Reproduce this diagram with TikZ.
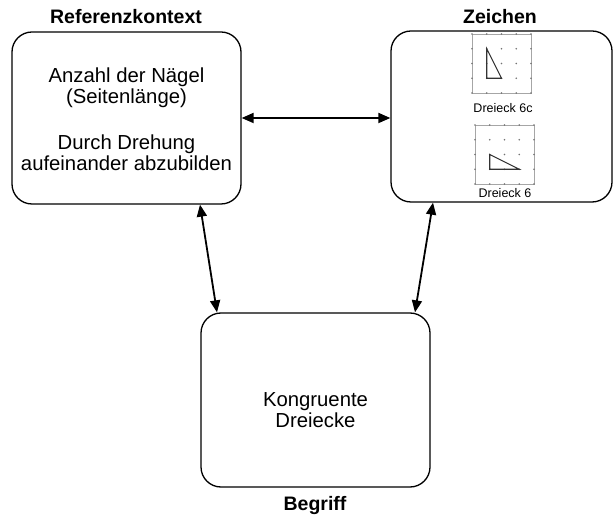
\documentclass[tikz,border=0pt]{standalone}
\usepackage{fontspec}
\setmainfont{Liberation Sans}
\usetikzlibrary{arrows.meta,calc}
\begin{document}
\begin{tikzpicture}[x=1pt,y=-1pt,
  box/.style={draw=black,line width=1.3pt,rounded corners=20pt,inner sep=0pt},
  txt/.style={align=center,font=\fontsize{20.3}{20.5}\selectfont,inner sep=0pt},
  ttl/.style={font=\fontsize{19.5}{20}\selectfont\bfseries,inner sep=0pt},
  caplbl/.style={font=\fontsize{12.5}{13}\selectfont,inner sep=0pt},
  arr/.style={line width=1.8pt,{Triangle[length=12pt,width=10pt]}-{Triangle[length=12pt,width=10pt]}},
  gline/.style={draw=gray!70,line width=0.5pt},
  tri/.style={draw=black!80,line width=1.1pt,line join=miter}]
\useasboundingbox (0,0) rectangle (613,518);
\fill[white] (0,0) rectangle (613,518);

\node[box,minimum width=229pt,minimum height=172pt] (lbox) at (126.5,118) {};
\node[box,minimum width=221pt,minimum height=171pt] (rbox) at (501.5,116.5) {};
\node[box,minimum width=229pt,minimum height=174pt] (bbox) at (315.5,400) {};

\node[txt] (ltext) at (126.5,119)
  {Anzahl der Nägel\\(Seitenlänge)\\[26pt]Durch Drehung\\aufeinander abzubilden};
\node[txt] (btext) at (315.5,410) {Kongruente\\Dreiecke};

\node[ttl] (t1) at (126,17) {Referenzkontext};
\node[ttl] (t2) at (500,17) {Zeichen};
\node[ttl] (t3) at (315,505) {Begriff};

% geoboard 1
\begin{scope}[shift={(472,34)}]
  \draw[gline] (0,0) rectangle (59,59);
  \foreach \i in {0,...,4} \foreach \j in {0,...,4}
    \fill[gray!90!black] (\i*14.75,\j*14.75) circle (0.9pt);
  \draw[tri] (14.75,14.75) -- (14.75,44.25) -- (29.5,44.25) -- cycle;
\end{scope}
\node[caplbl] (c1) at (503,108) {Dreieck 6c};

% geoboard 2
\begin{scope}[shift={(475,125)}]
  \draw[gline] (0,0) rectangle (59,59);
  \foreach \i in {0,...,4} \foreach \j in {0,...,4}
    \fill[gray!90!black] (\i*14.75,\j*14.75) circle (0.9pt);
  \draw[tri] (14.75,29.5) -- (14.75,44.25) -- (44.25,44.25) -- cycle;
\end{scope}
\node[caplbl] (c2) at (505,193) {Dreieck 6};

\draw[arr] (lbox.east) -- (lbox.east -| rbox.west);
\draw[arr] ([xshift=73.5pt]lbox.south) -- ([xshift=-98.5pt]bbox.north);
\draw[arr] ([xshift=-68.5pt]rbox.south) -- ([xshift=99.5pt]bbox.north);
\end{tikzpicture}
\end{document}
